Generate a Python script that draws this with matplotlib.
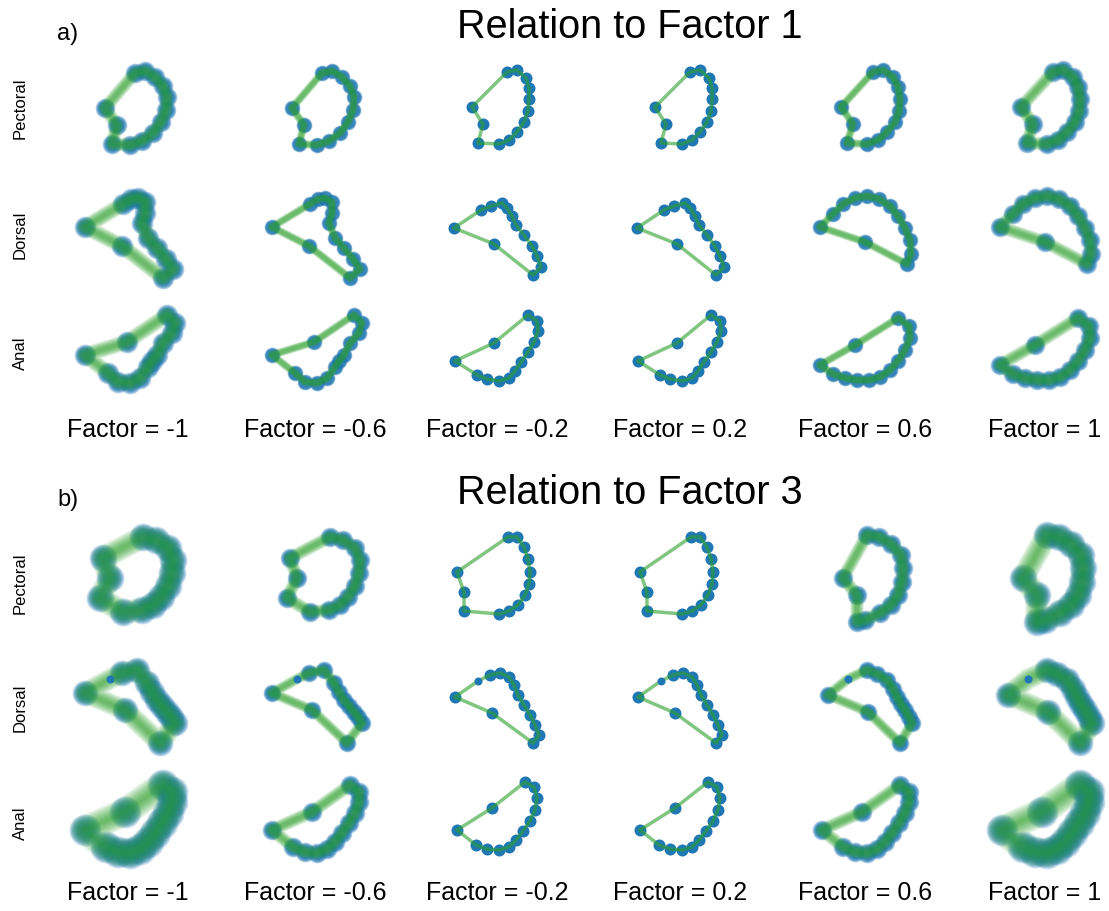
import numpy as np
import matplotlib.pyplot as plt

plt.rcParams['font.family'] = ['Liberation Sans', 'DejaVu Sans']

factors = [-1, -0.6, -0.2, 0.2, 0.6, 1]
fins = ["Pectoral", "Dorsal", "Anal"]
titles = ["Relation to Factor 1", "Relation to Factor 3"]
panel_tags = ["a)", "b)"]

# fin outlines, landmark (x, y) offsets in px from the cell centre (y down)
# each fin has three outlines: negative side, centre, positive side
pect_a_neg = [(-23, 3), (7, -32), (17, -34), (27, -28), (35, -19), (39, -8), (38, 5), (33, 17), (25, 28), (14, 36), (2, 40), (-16, 39), (-11, 20)]
pect_a_mid = [(-25, 2), (10, -33), (20, -35), (29, -27), (32, -17), (32, -6), (31, 6), (27, 17), (20, 27), (12, 35), (2, 39), (-19, 38), (-14, 19)]
pect_a_pos = [(-24, 2), (8, -33), (18, -35), (28, -28), (33, -18), (35, -6), (34, 6), (30, 17), (22, 27), (13, 35), (2, 39), (-18, 38), (-12, 19)]

dors_a_neg = [(-43, -5), (-5, -28), (3, -33), (10, -34), (17, -30), (17, -19), (14, -9), (20, 6), (29, 16), (38, 27), (45, 37), (35, 46), (-6, 14)]
dors_a_mid = [(-43, -4), (-16, -22), (-6, -26), (5, -29), (10, -24), (15, -16), (19, -7), (27, 3), (35, 14), (40, 24), (44, 35), (36, 43), (-3, 12)]
dors_a_pos = [(-45, -5), (-32, -18), (-22, -28), (-10, -34), (2, -36), (14, -33), (25, -26), (33, -16), (40, -4), (45, 8), (46, 22), (42, 32), (0, 10)]

anal_a_neg = [(-43, 5), (-1, -8), (39, -35), (47, -27), (44, -17), (35, -7), (29, 5), (24, 11), (20, 17), (12, 28), (2, 33), (-10, 32), (-20, 23)]
anal_a_mid = [(-42, 11), (-3, -7), (31, -35), (40, -29), (41, -19), (37, -8), (31, 2), (24, 12), (18, 21), (12, 28), (2, 31), (-10, 29), (-20, 25)]
anal_a_pos = [(-45, 15), (-10, -5), (33, -32), (44, -24), (45, -12), (40, 0), (33, 11), (25, 20), (15, 27), (4, 30), (-8, 30), (-20, 28), (-32, 24)]

pect_b_neg = [(-25, -22), (15, -43), (28, -40), (40, -32), (45, -20), (44, -7), (40, 6), (33, 17), (25, 25), (14, 30), (-5, 32), (-28, 18), (-18, -2)]
pect_b_mid = [(-40, -8), (11, -43), (20, -43), (27, -33), (31, -21), (33, -8), (32, 4), (28, 15), (21, 25), (12, 31), (2, 34), (-33, 31), (-33, 12)]
pect_b_pos = [(-22, -2), (2, -45), (14, -43), (26, -36), (36, -25), (38, -12), (37, 2), (33, 15), (26, 25), (15, 33), (0, 40), (-8, 42), (-8, 15)]

dors_b_neg = [(-43, -12), (-18, -26), (-6, -32), (9, -35), (19, -22), (24, -13), (29, -5), (34, 1), (39, 7), (43, 12), (47, 18), (32, 38), (-3, 5)]
dors_b_mid = [(-42, -8), (-19, -24), (-7, -30), (3, -32), (12, -28), (17, -20), (21, -10), (27, 0), (33, 10), (38, 20), (42, 30), (36, 38), (-5, 8)]
dors_b_pos = [(-37, -10), (-17, -26), (2, -35), (12, -31), (22, -25), (28, -16), (32, -8), (36, -1), (40, 5), (44, 12), (47, 18), (35, 38), (3, 7)]

anal_b_neg = [(-43, 10), (-3, -8), (35, -35), (44, -28), (44, -18), (40, -7), (34, 3), (27, 13), (20, 22), (12, 29), (2, 33), (-10, 32), (-22, 27)]
anal_b_mid = [(-40, 10), (-5, -12), (28, -38), (37, -33), (40, -22), (38, -10), (33, 1), (26, 11), (19, 20), (12, 27), (2, 30), (-10, 29), (-21, 25)]
anal_b_pos = [(-43, 10), (-3, -8), (35, -35), (44, -28), (44, -18), (40, -7), (34, 3), (27, 13), (20, 22), (12, 29), (2, 33), (-10, 32), (-22, 27)]

outlines = [
    [[pect_a_neg, pect_a_mid, pect_a_pos], [dors_a_neg, dors_a_mid, dors_a_pos], [anal_a_neg, anal_a_mid, anal_a_pos]],
    [[pect_b_neg, pect_b_mid, pect_b_pos], [dors_b_neg, dors_b_mid, dors_b_pos], [anal_b_neg, anal_b_mid, anal_b_pos]],
]
col_outline = [0, 0, 1, 1, 2, 2]

# landmarks that show as small, steady dots (panel, fin) -> indices
steady_pts = {(1, 1): [1]}

# spread of the sampled shapes (px) per panel, fin row and factor column
spread_a = [[4, 2, 0, 0, 2, 4], [5, 2, 0, 0, 2, 4], [5, 2, 0, 0, 2, 4]]
spread_b = [[8, 4, 0, 0, 4, 8], [7, 3, 0, 0, 3, 7], [10, 4, 0, 0, 4, 10]]
spreads = [spread_a, spread_b]

W, H = 1109, 911
col_x = [128, 315, 497, 680, 865, 1045]
row_y = [[105, 232, 350], [580, 705, 820]]
label_y = [430, 893]
title_y = [27, 493]

BLUE = '#1f77b4'
GREEN = '#2ca02c'
PT = 0.72  # px -> pt at dpi 100


def draw_fin(ax, pts, blur, steady):
    p = np.array(pts, dtype=float)
    closed = np.vstack([p, p[:1]])
    keep = [i for i in range(len(p)) if i not in steady]
    n = 9 if blur > 0 else 1
    dot, lw = 12.0, 3.5
    for k in range(n):
        t = 1 - k / (n - 1) if n > 1 else 0
        ms = dot + 2 * blur * t
        a = 0.22 if n > 1 else 1.0
        ax.plot(p[keep, 0], p[keep, 1], 'o', ms=ms * PT, color=BLUE, alpha=a, mec='none')
    for k in range(n):
        t = 1 - k / (n - 1) if n > 1 else 0
        w = lw + 2.5 * blur * t
        a = 0.12 if n > 1 else 0.6
        ax.plot(closed[:, 0], closed[:, 1], '-', lw=w * PT, color=GREEN, alpha=a,
                solid_capstyle='round', solid_joinstyle='round')
    if steady:
        ax.plot(p[steady, 0], p[steady, 1], 'o', ms=8 * PT, color=BLUE, mec='none', zorder=5)


fig = plt.figure(figsize=(W / 100, H / 100), dpi=100)

for pi in range(2):
    for ri, fin in enumerate(fins):
        cy = row_y[pi][ri]
        for ci, f in enumerate(factors):
            cx = col_x[ci]
            ax = fig.add_axes([(cx - 85) / W, 1 - (cy + 60) / H, 170 / W, 120 / H])
            draw_fin(ax, outlines[pi][ri][col_outline[ci]], spreads[pi][ri][ci],
                     steady_pts.get((pi, ri), []))
            ax.set_xlim(-85, 85)
            ax.set_ylim(60, -60)
            ax.axis('off')
        fig.text(20 / W, 1 - (cy + 3) / H, fin, rotation=90, ha='center', va='center', fontsize=12)
    for ci, f in enumerate(factors):
        fig.text(col_x[ci] / W, 1 - label_y[pi] / H, "Factor = %g" % f, ha='center', va='center', fontsize=18)
    fig.text(630 / W, 1 - title_y[pi] / H, titles[pi], ha='center', va='center', fontsize=28.5)
    fig.text(68 / W, 1 - (title_y[pi] + 7) / H, panel_tags[pi], ha='center', va='center', fontsize=17)

fig.savefig('out.png', dpi=100)
